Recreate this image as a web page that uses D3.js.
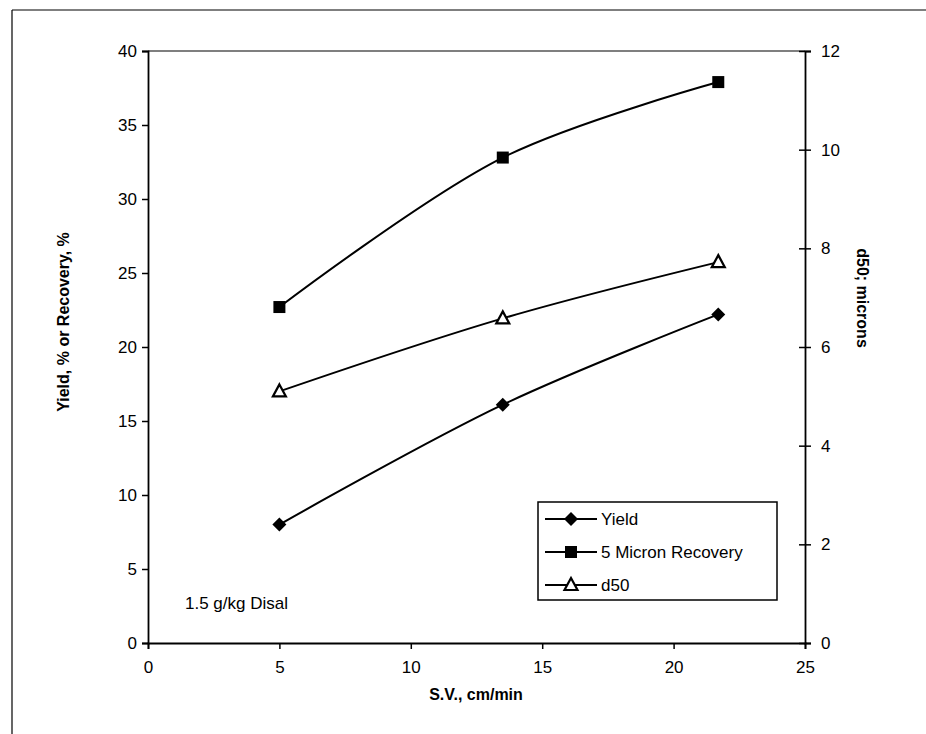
<!DOCTYPE html>
<html>
<head>
<meta charset="utf-8">
<script src="https://cdn.jsdelivr.net/npm/d3@7"></script>
<style>
body { margin: 0; background: #fff; }
text { font-family: Arial, "Liberation Sans", sans-serif; }
</style>
</head>
<body>
<div id="chart"></div>
<script>
var sv = [5, 13.5, 21.7];
var yieldVals = [8.0, 16.1, 22.2];
var recovery = [22.7, 32.8, 37.9];
var d50 = [5.1, 6.58, 7.72];
var xTicks = [0, 5, 10, 15, 20, 25];
var yTicks = [0, 5, 10, 15, 20, 25, 30, 35, 40];
var y2Ticks = [0, 2, 4, 6, 8, 10, 12];
var legendNames = ["Yield", "5 Micron Recovery", "d50"];

var W = 926, H = 734;
var plotL = 148, plotR = 805, plotT = 51, plotB = 643;

var svg = d3.select("#chart").append("svg")
    .attr("width", W)
    .attr("height", H);

// outer frame (left and top only visible)
svg.append("line").attr("x1", 12).attr("y1", 10).attr("x2", 12).attr("y2", H).attr("stroke", "#000").attr("stroke-width", 1.2);
svg.append("line").attr("x1", 12).attr("y1", 10).attr("x2", W).attr("y2", 10).attr("stroke", "#000").attr("stroke-width", 1.2);

var x = d3.scaleLinear().domain([0, 25]).range([plotL, plotR]);
var y = d3.scaleLinear().domain([0, 40]).range([plotB, plotT]);
var y2 = d3.scaleLinear().domain([0, 12]).range([plotB, plotT]);

// plot top border
svg.append("line").attr("x1", plotL).attr("x2", plotR).attr("y1", plotT).attr("y2", plotT).attr("stroke", "#000").attr("stroke-width", 1.2);

var xAxis = svg.append("g")
    .attr("transform", "translate(0," + plotB + ")")
    .call(d3.axisBottom(x).tickValues(xTicks).tickSize(6).tickPadding(12));
var yAxis = svg.append("g")
    .attr("transform", "translate(" + plotL + ",0)")
    .call(d3.axisLeft(y).tickValues(yTicks).tickSize(6).tickPadding(5));
var y2Axis = svg.append("g")
    .attr("transform", "translate(" + plotR + ",0)")
    .call(d3.axisRight(y2).tickValues(y2Ticks).tickSize(6).tickPadding(10));
y2Axis.selectAll(".tick line").attr("x1", -6);

[xAxis, yAxis, y2Axis].forEach(function(g) {
    g.select(".domain").attr("stroke", "#000").attr("stroke-width", 1.8);
    g.selectAll(".tick line").attr("stroke", "#000").attr("stroke-width", 1.5);
    g.selectAll(".tick text").attr("font-size", 17).attr("fill", "#000")
        .attr("font-family", "Arial, 'Liberation Sans', sans-serif");
});

// axis titles
svg.append("text")
    .attr("x", 476).attr("y", 700)
    .attr("text-anchor", "middle")
    .attr("font-size", 16).attr("font-weight", "bold")
    .text("S.V., cm/min");
svg.append("text")
    .attr("transform", "translate(69,322) rotate(-90)")
    .attr("text-anchor", "middle")
    .attr("font-size", 16).attr("font-weight", "bold")
    .text("Yield, % or Recovery, %");
svg.append("text")
    .attr("transform", "translate(857,298) rotate(90)")
    .attr("text-anchor", "middle")
    .attr("font-size", 16).attr("font-weight", "bold")
    .text("d50; microns");

svg.append("text")
    .attr("x", 185).attr("y", 609)
    .attr("font-size", 17)
    .text("1.5 g/kg Disal");

var line = d3.line().curve(d3.curveCatmullRom.alpha(0.5));

var series = [
    { name: legendNames[0], pts: sv.map(function(d, i) { return [x(d), y(yieldVals[i])]; }), sym: "diamond" },
    { name: legendNames[1], pts: sv.map(function(d, i) { return [x(d), y(recovery[i])]; }), sym: "square" },
    { name: legendNames[2], pts: sv.map(function(d, i) { return [x(d), y2(d50[i])]; }), sym: "triangle" }
];

function drawMarker(g, sym, cx, cy) {
    if (sym === "diamond") {
        g.append("path")
            .attr("d", "M" + cx + "," + (cy - 7) + "L" + (cx + 7) + "," + cy + "L" + cx + "," + (cy + 7) + "L" + (cx - 7) + "," + cy + "Z")
            .attr("fill", "#000");
    } else if (sym === "square") {
        g.append("rect")
            .attr("x", cx - 6).attr("y", cy - 6).attr("width", 12).attr("height", 12)
            .attr("fill", "#000");
    } else {
        g.append("path")
            .attr("d", "M" + cx + "," + (cy - 7) + "L" + (cx + 6.5) + "," + (cy + 5) + "L" + (cx - 6.5) + "," + (cy + 5) + "Z")
            .attr("fill", "#fff").attr("stroke", "#000").attr("stroke-width", 2.2);
    }
}

series.forEach(function(s) {
    svg.append("path")
        .attr("d", line(s.pts))
        .attr("fill", "none")
        .attr("stroke", "#000")
        .attr("stroke-width", 2);
    s.pts.forEach(function(p) { drawMarker(svg, s.sym, p[0], p[1]); });
});

// legend
var lg = svg.append("g");
lg.append("rect")
    .attr("x", 538).attr("y", 502).attr("width", 239).attr("height", 98)
    .attr("fill", "#fff").attr("stroke", "#000").attr("stroke-width", 1.5);
series.forEach(function(s, i) {
    var ly = 519 + i * 33;
    lg.append("line")
        .attr("x1", 545).attr("x2", 597).attr("y1", ly).attr("y2", ly)
        .attr("stroke", "#000").attr("stroke-width", 2);
    drawMarker(lg, s.sym, 571, ly);
    lg.append("text")
        .attr("x", 601).attr("y", ly + 6)
        .attr("font-size", 17)
        .text(s.name);
});
</script>
</body>
</html>
